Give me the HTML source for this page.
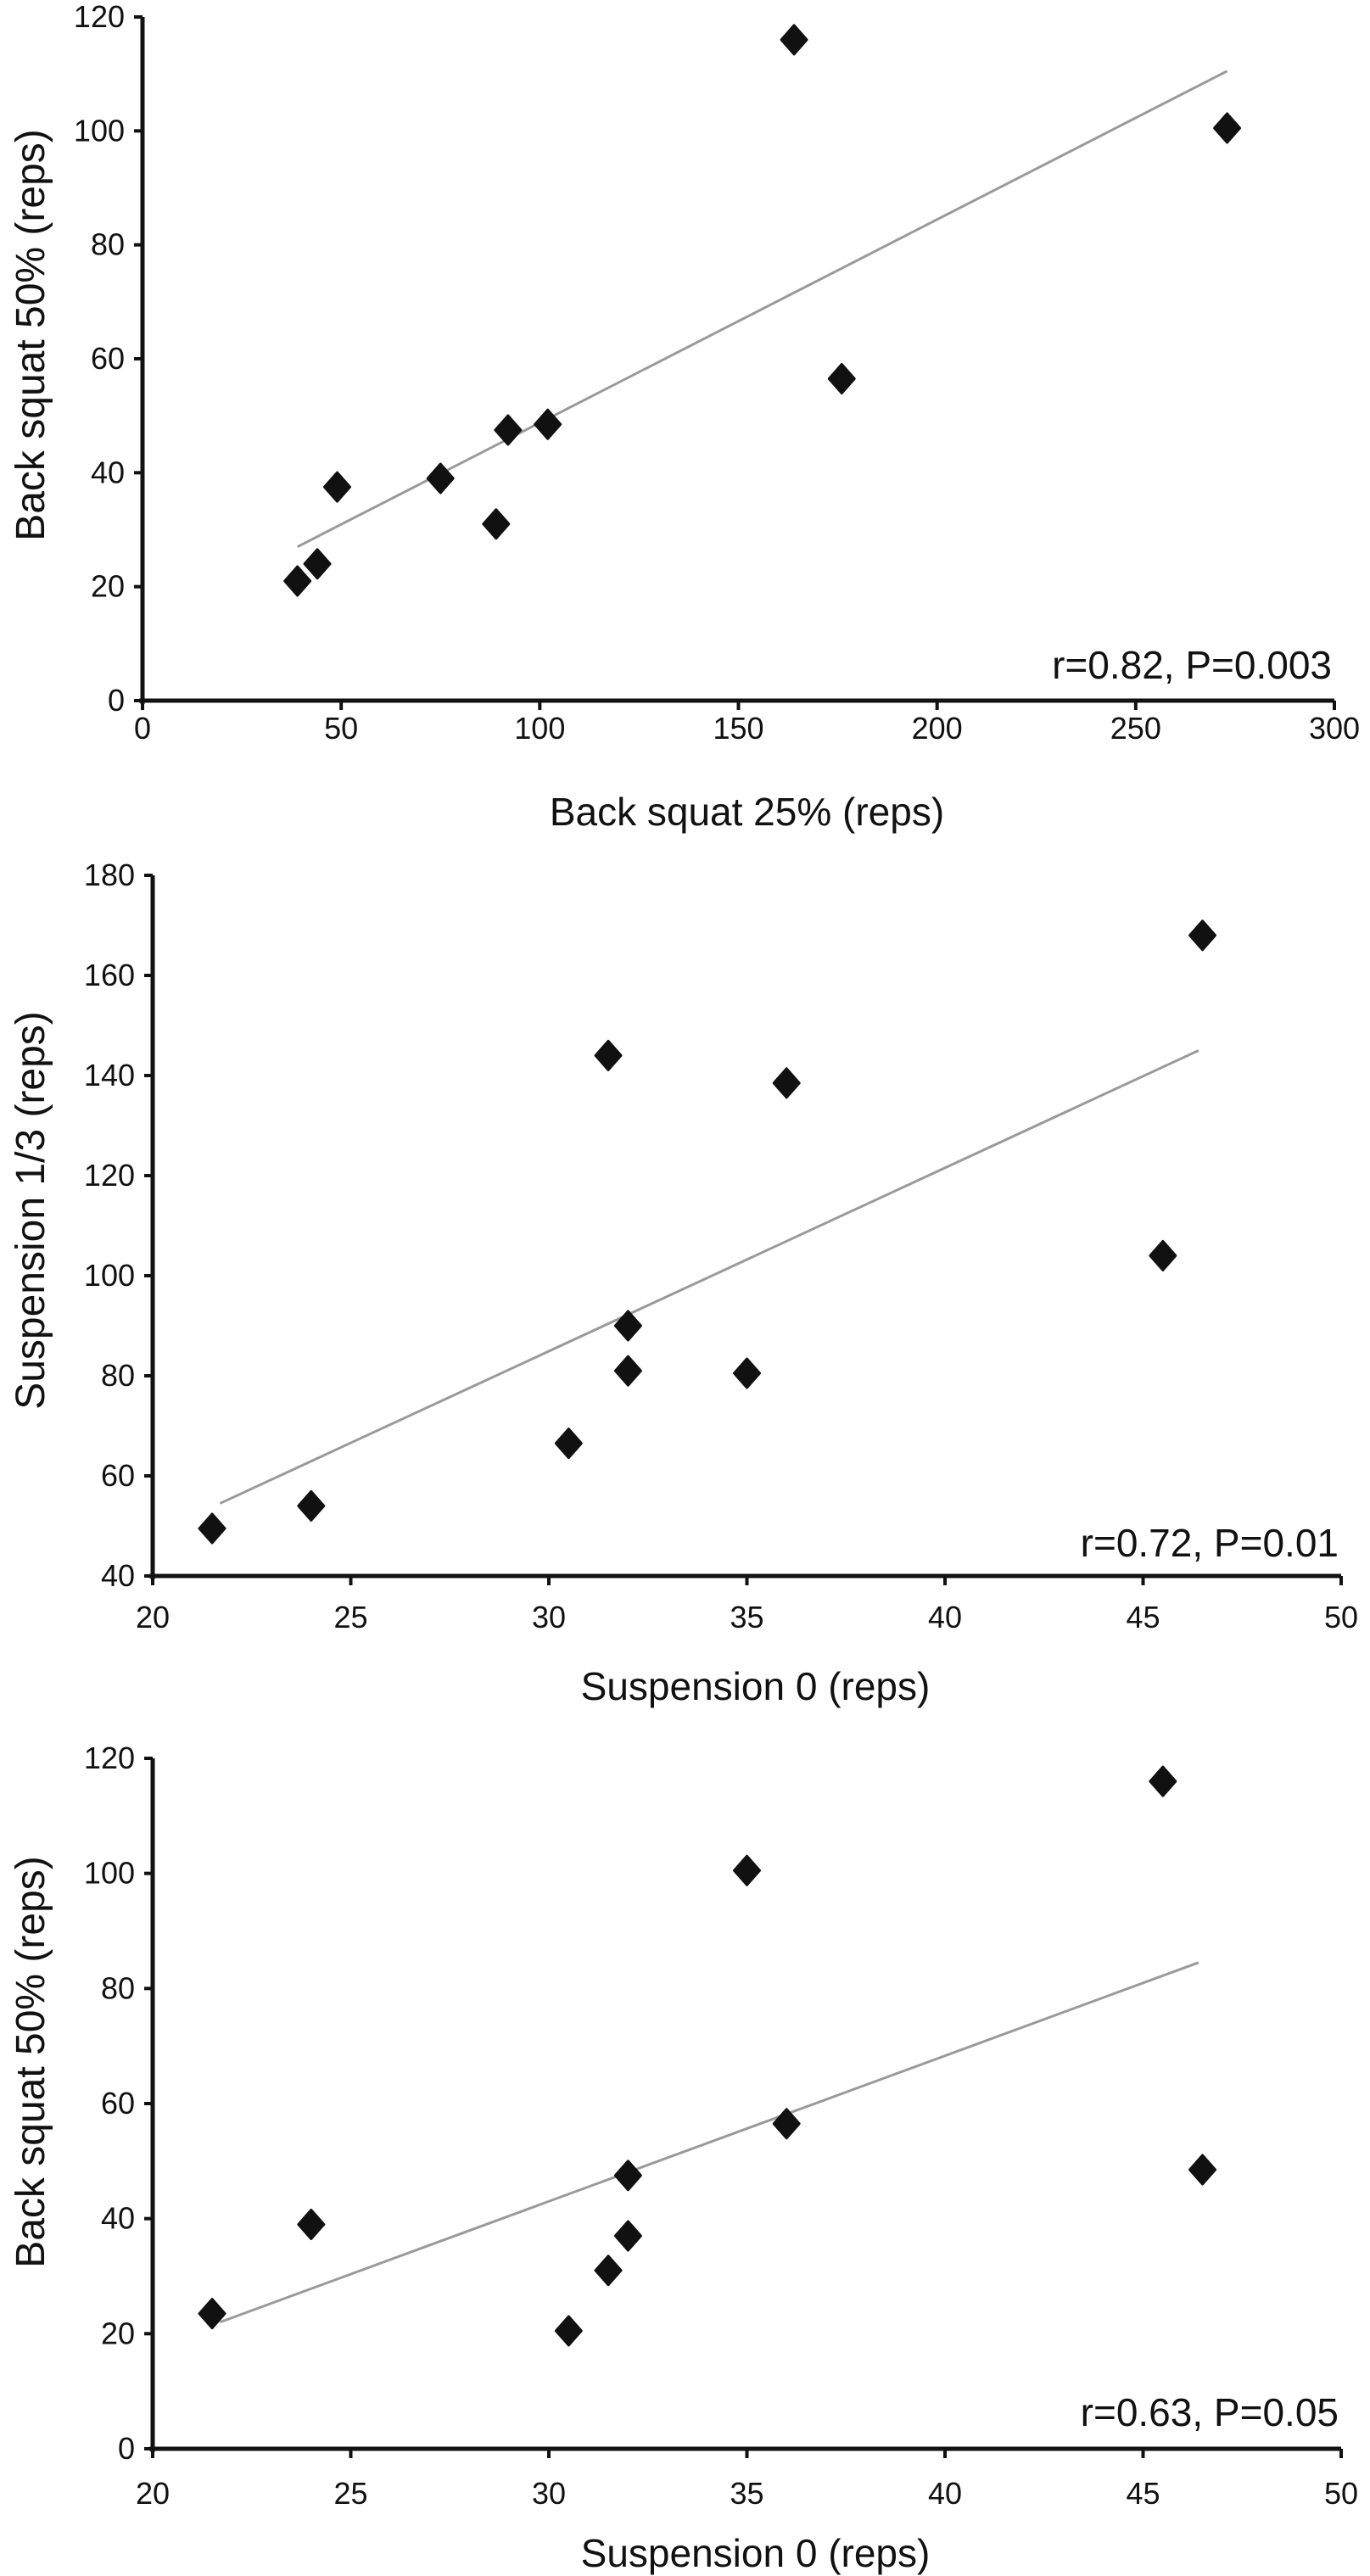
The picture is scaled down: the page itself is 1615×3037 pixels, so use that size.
<!DOCTYPE html>
<html><head><meta charset="utf-8"><style>
html,body{margin:0;padding:0;background:#fff;}
svg{display:block;font-family:"Liberation Sans",sans-serif;}
</style></head><body>
<svg id="fig" width="1615" height="3037" viewBox="0 0 1615 3037" xmlns="http://www.w3.org/2000/svg"></svg>
<script>
// Chart 1 data
const c1X = [39, 44, 49, 75, 89, 92, 102, 164, 176, 273];
const c1Y = [21, 24, 37.5, 39, 31, 47.5, 48.5, 116, 56.5, 100.5];
const c1Trend = [[39, 27], [273, 110.5]];
const c1XTicks = [0, 50, 100, 150, 200, 250, 300];
const c1YTicks = [0, 20, 40, 60, 80, 100, 120];
// Chart 2 data
const c2X = [21.5, 24, 30.5, 31.5, 32, 32, 35, 36, 45.5, 46.5];
const c2Y = [49.5, 54, 66.5, 144, 90, 81, 80.5, 138.5, 104, 168];
const c2Trend = [[21.7, 54.5], [46.4, 145]];
const c2XTicks = [20, 25, 30, 35, 40, 45, 50];
const c2YTicks = [40, 60, 80, 100, 120, 140, 160, 180];
// Chart 3 data
const c3X = [21.5, 24, 30.5, 31.5, 32, 32, 35, 36, 45.5, 46.5];
const c3Y = [23.5, 39, 20.5, 31, 47.5, 37, 100.5, 56.5, 116, 48.5];
const c3Trend = [[21.7, 22], [46.4, 84.5]];
const c3XTicks = [20, 25, 30, 35, 40, 45, 50];
const c3YTicks = [0, 20, 40, 60, 80, 100, 120];

const NS = "http://www.w3.org/2000/svg";
const svg = document.getElementById("fig");
function mk(tag, attrs, parent) {
  const e = document.createElementNS(NS, tag);
  for (const k in attrs) e.setAttribute(k, attrs[k]);
  (parent || svg).appendChild(e);
  return e;
}
function chart(cfg) {
  const g = mk("g", {});
  
  
  const sx = v => cfg.x0 + (v - cfg.xmin) / (cfg.xmax - cfg.xmin) * (cfg.x1 - cfg.x0);
  const sy = v => cfg.y0 - (v - cfg.ymin) / (cfg.ymax - cfg.ymin) * (cfg.y0 - cfg.y1);
  const ya = mk("line", {x1: cfg.x0, y1: cfg.y1, x2: cfg.x0, y2: cfg.y0 + 4, stroke: "#111", "stroke-width": 5}, g);
  
  
  const xa = mk("line", {x1: cfg.x0 - 4, y1: cfg.y0, x2: cfg.x1, y2: cfg.y0, stroke: "#111", "stroke-width": 5}, g);
  
  
  cfg.yticks.forEach(v => {
    const y = sy(v);
    const t = mk("line", {x1: cfg.x0 - 10, y1: y, x2: cfg.x0, y2: y, stroke: "#111", "stroke-width": 4}, g);
    
    
    const l = mk("text", {x: cfg.x0 - 21, y: y + 12, "text-anchor": "end", "font-size": 36, fill: "#111"}, g);
    l.textContent = v;
    
    
  });
  cfg.xticks.forEach(v => {
    const x = sx(v);
    const t = mk("line", {x1: x, y1: cfg.y0, x2: x, y2: cfg.y0 + 11, stroke: "#111", "stroke-width": 4}, g);
    
    
    const l = mk("text", {x: x, y: cfg.xlabY + 13, "text-anchor": "middle", "font-size": 36, fill: "#111"}, g);
    l.textContent = v;
    
    
  });
  const tl = mk("line", {x1: sx(cfg.trend[0][0]), y1: sy(cfg.trend[0][1]), x2: sx(cfg.trend[1][0]), y2: sy(cfg.trend[1][1]), stroke: "#9a9a9a", "stroke-width": 3}, g);
  
  
  cfg.xs.forEach((xv, i) => {
    const x = sx(xv), y = sy(cfg.ys[i]);
    const p = mk("path", {d: `M${x} ${y-17} L${x+15} ${y} L${x} ${y+17} L${x-15} ${y} Z`, fill: "#111", stroke: "#111", "stroke-width": 3, "stroke-linejoin": "round"}, g);
    
    
  });
  const a = mk("text", {x: cfg.x1 - 3, y: cfg.annY, "text-anchor": "end", "font-size": 46, fill: "#111"}, g);
  a.textContent = cfg.ann;
  
  
  const xt = mk("text", {x: (cfg.x0 + cfg.x1) / 2 + 10, y: cfg.xtitleY + 16, "text-anchor": "middle", "font-size": 46, fill: "#111"}, g);
  xt.textContent = cfg.xtitle;
  
  
  const yt = mk("text", {x: 0, y: 0, "text-anchor": "middle", "font-size": 48, fill: "#111", transform: `translate(${cfg.ytitleX},${cfg.ytitleY}) rotate(-90)`}, g);
  yt.textContent = cfg.ytitle;
  
  
}
chart({name: "chart-back-squat-25-vs-50", xs: c1X, ys: c1Y, trend: c1Trend, xticks: c1XTicks, yticks: c1YTicks,
  xmin: 0, xmax: 300, ymin: 0, ymax: 120, x0: 168, x1: 1573, y0: 826, y1: 20,
  xlabY: 858, xtitleY: 957, annY: 800, ytitleX: 52, ytitleY: 395,
  ann: "r=0.82, P=0.003", xtitle: "Back squat 25% (reps)", ytitle: "Back squat 50% (reps)"});
chart({name: "chart-suspension-0-vs-1-3", xs: c2X, ys: c2Y, trend: c2Trend, xticks: c2XTicks, yticks: c2YTicks,
  xmin: 20, xmax: 50, ymin: 40, ymax: 180, x0: 180, x1: 1581, y0: 1858, y1: 1032,
  xlabY: 1906, xtitleY: 1988, annY: 1835, ytitleX: 52, ytitleY: 1427,
  ann: "r=0.72, P=0.01", xtitle: "Suspension 0 (reps)", ytitle: "Suspension 1/3 (reps)"});
chart({name: "chart-suspension-0-vs-back-squat-50", xs: c3X, ys: c3Y, trend: c3Trend, xticks: c3XTicks, yticks: c3YTicks,
  xmin: 20, xmax: 50, ymin: 0, ymax: 120, x0: 180, x1: 1581, y0: 2887, y1: 2073,
  xlabY: 2939, xtitleY: 3010, annY: 2860, ytitleX: 52, ytitleY: 2431,
  ann: "r=0.63, P=0.05", xtitle: "Suspension 0 (reps)", ytitle: "Back squat 50% (reps)"});
</script>
</body></html>
